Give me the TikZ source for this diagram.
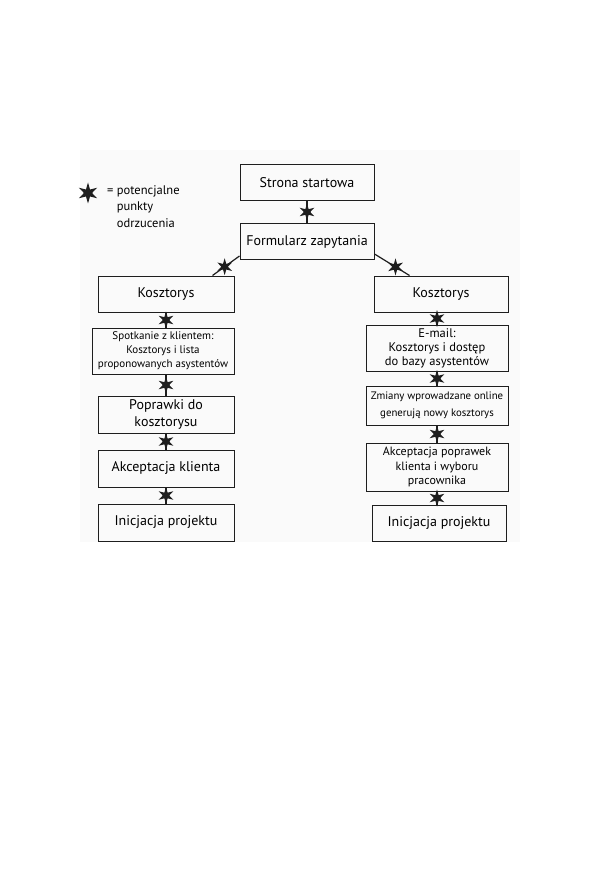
\documentclass[tikz,border=0pt]{standalone}
\usepackage{fontspec}
\setmainfont{PT Sans}
\usepackage{tikz}
\usetikzlibrary{positioning,shapes.geometric,calc}
\definecolor{Ink}{HTML}{1E1E1E}
\definecolor{Paper}{HTML}{FAFAFA}

\begin{document}
\begin{tikzpicture}[x=1pt,y=-1pt,
  stepbox/.style={draw=Ink,line width=1pt,minimum width=134pt,minimum height=36pt,align=center,font=\fontsize{14}{17}\selectfont,inner sep=1pt},
  widebox/.style={stepbox,minimum width=142pt},
  link/.style={draw=Ink,line width=1.2pt},
  rej/.style={star,star points=6,star point ratio=2.6,minimum size=17pt,inner sep=0pt,fill=Ink,draw=none}
]
\useasboundingbox (0,0) rectangle (596,885);
\fill[Paper] (80,150) rectangle (520,542);
% legend
\node[rej,minimum size=21pt] (legstar) at (88,193) {};
\node[anchor=north west,align=left,font=\fontsize{12.5}{16.5}\selectfont,inner sep=0pt] (legtxt) at (107,185) {= potencjalne\\\hphantom{= }punkty\\\hphantom{= }odrzucenia};
% top
\node[stepbox] (start) at (307,182.5) {Strona startowa};
\node[stepbox,below=22pt of start] (form) {Formularz zapytania};
% left column
\node[stepbox,minimum width=136pt] (kL) at (166,294) {Kosztorys};
\node[widebox,minimum height=46pt,below=15pt of kL,font=\fontsize{11}{14}\selectfont,xshift=-3pt] (spot) {Spotkanie z klientem:\\Kosztorys i lista\\proponowanych asystentów};
\node[stepbox,minimum width=136pt,minimum height=37pt,below=21pt of spot,xshift=3pt] (poprL) {Poprawki do\\kosztorysu};
\node[stepbox,minimum width=136pt,minimum height=37pt,below=16pt of poprL] (akL) {Akceptacja klienta};
\node[stepbox,minimum width=136pt,minimum height=37pt,below=16pt of akL] (iniL) {Inicjacja projektu};
% right column
\node[stepbox] (kR) at (441,294) {Kosztorys};
\node[widebox,minimum height=46pt,below=12pt of kR,xshift=-4pt,font=\fontsize{12.5}{14}\selectfont] (mail) {E-mail:\\Kosztorys i dostęp\\do bazy asystentów};
\node[widebox,minimum height=39pt,below=14pt of mail,font=\fontsize{10.8}{16.5}\selectfont] (zmiany) {Zmiany wprowadzane online\\generują nowy kosztorys};
\node[widebox,minimum height=48pt,below=17pt of zmiany,font=\fontsize{12}{14.5}\selectfont] (akR) {Akceptacja poprawek\\klienta i wyboru\\pracownika};
\node[stepbox,below=13pt of akR,xshift=2pt] (iniR) {Inicjacja projektu};
% connectors
\draw[link] (start) -- node[rej] (r1) {} (form);
\draw[link] ($(form.south west)+(0,-4)$) -- node[rej,pos=.55] (r2) {} ($(kL.north east)+(-22,0)$);
\draw[link] ($(form.south east)+(0,-6)$) -- node[rej,pos=.6] (r3) {} ($(kR.north west)+(36,0)$);
\draw[link] (kL) -- node[rej] (r4) {} (kL|-spot.north);
\draw[link] (kL|-spot.south) -- node[rej] (r5) {} (poprL);
\draw[link] (poprL) -- node[rej] (r6) {} (akL);
\draw[link] (akL) -- node[rej] (r7) {} (iniL);
\draw[link] (mail.north) -- node[rej] (r8) {} (mail.north|-kR.south);
\draw[link] (mail) -- node[rej] (r9) {} (zmiany);
\draw[link] (zmiany) -- node[rej] (r10) {} (akR);
\draw[link] (akR.south) -- node[rej] (r11) {} (akR.south|-iniR.north);
\end{tikzpicture}
\end{document}
